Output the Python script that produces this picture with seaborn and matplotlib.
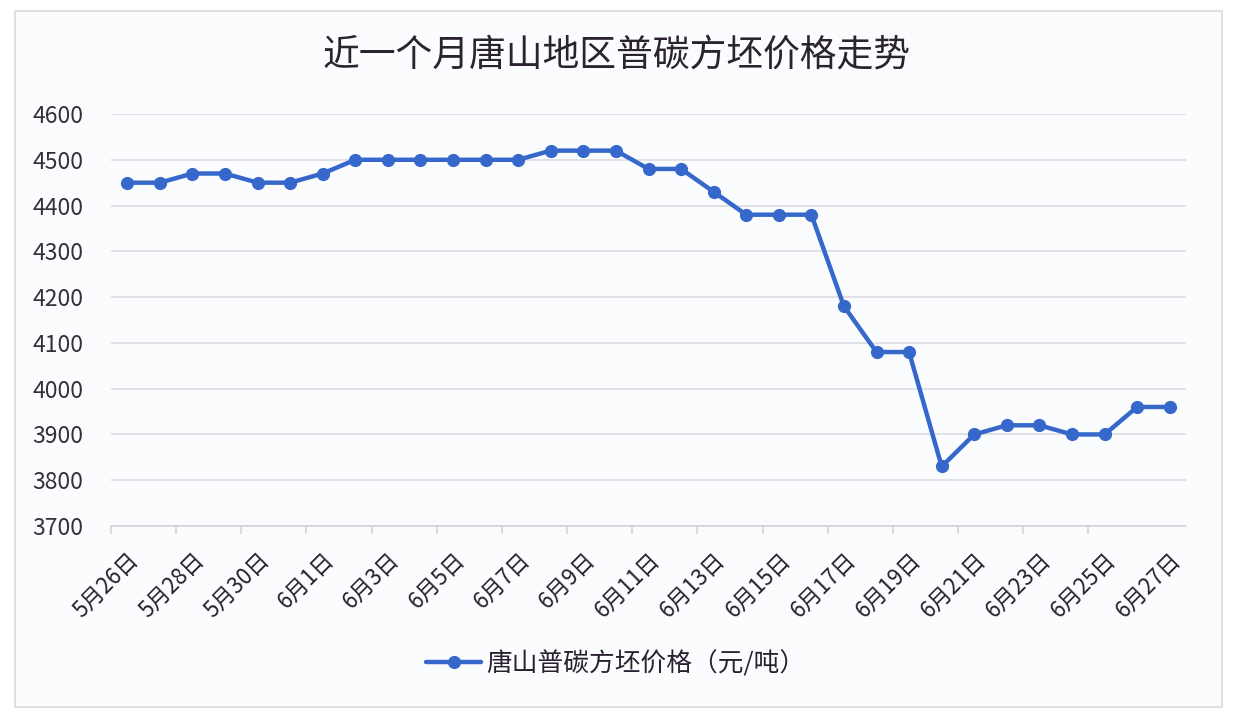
import matplotlib
matplotlib.use("Agg")
import matplotlib.pyplot as plt
import seaborn as sns
import pandas as pd
from matplotlib.patches import Rectangle

dates = ["5月26日", "5月27日", "5月28日", "5月29日", "5月30日", "5月31日"] + \
        [f"6月{d}日" for d in range(1, 28)]
prices = [4450, 4450, 4470, 4470, 4450, 4450, 4470, 4500, 4500, 4500, 4500,
          4500, 4500, 4520, 4520, 4520, 4480, 4480, 4430, 4380, 4380, 4380,
          4180, 4080, 4080, 3830, 3900, 3920, 3920, 3900, 3900, 3960, 3960]
series_name = "唐山普碳方坯价格（元/吨）"
title = "近一个月唐山地区普碳方坯价格走势"
y_ticks = [3700, 3800, 3900, 4000, 4100, 4200, 4300, 4400, 4500, 4600]

sns.set_theme(style="white")
plt.rcParams['font.family'] = ['Noto Sans CJK SC', 'DejaVu Sans']

df = pd.DataFrame({"idx": range(len(dates)), "date": dates, "price": prices, "series": series_name})

fig = plt.figure(figsize=(12.34, 7.24), dpi=100)
fig.patch.set_facecolor("white")
# outer frame
frame = Rectangle((15 / 1234, 1 - 707 / 724), (1222 - 15) / 1234, (707 - 11) / 724,
                  transform=fig.transFigure, facecolor="#fbfcfe",
                  edgecolor="#d9d9de", linewidth=1.2, zorder=-10)
fig.patches.append(frame)

ax = fig.add_axes([111 / 1234, 1 - 526 / 724, (1186 - 111) / 1234, (526 - 114) / 724])
ax.set_facecolor("none")
ax.set_zorder(1)

blue = "#3668cc"
sns.lineplot(data=df, x="idx", y="price", hue="series", palette=[blue], ax=ax,
             linewidth=3.2, marker="o", markersize=9.5, markeredgewidth=0, zorder=3)

ax.set_ylim(3700, 4600)
ax.set_xlim(-0.5, len(dates) - 0.5)
ax.set_yticks(y_ticks)
ax.set_yticklabels([str(v) for v in y_ticks], fontsize=16.5, color="#33303a")
ax.yaxis.grid(True, color="#d9d9de", linewidth=1.1)
ax.tick_params(axis="y", length=0, pad=20)

major = list(range(0, len(dates), 2))
ax.set_xticks(major)
ax.set_xticklabels([dates[i] for i in major], rotation=45, ha="right",
                   rotation_mode="anchor", fontsize=16, color="#2a2030")
ax.set_xticks([i - 0.5 for i in range(0, len(dates) - 1, 2)], minor=True)
ax.tick_params(axis="x", which="major", length=0, pad=16)
ax.tick_params(axis="x", which="minor", length=6, color="#d0d0d6", width=1.1, bottom=True)

for s in ["top", "right", "left"]:
    ax.spines[s].set_visible(False)
ax.spines["bottom"].set_color("#d0d0d6")
ax.spines["bottom"].set_linewidth(1.1)
ax.set_xlabel("")
ax.set_ylabel("")

leg = ax.legend(loc="center", bbox_to_anchor=(616 / 1234, 1 - 664 / 724),
                bbox_transform=fig.transFigure, frameon=False, fontsize=18.5,
                handlelength=2.15, handletextpad=0.2)
for t in leg.get_texts():
    t.set_color("#2a2030")

fig.text(617 / 1234, 1 - 55 / 724, title, ha="center", va="center",
         fontsize=26.5, color="#2b2430")

fig.savefig("out.png", dpi=100, facecolor=fig.get_facecolor())
